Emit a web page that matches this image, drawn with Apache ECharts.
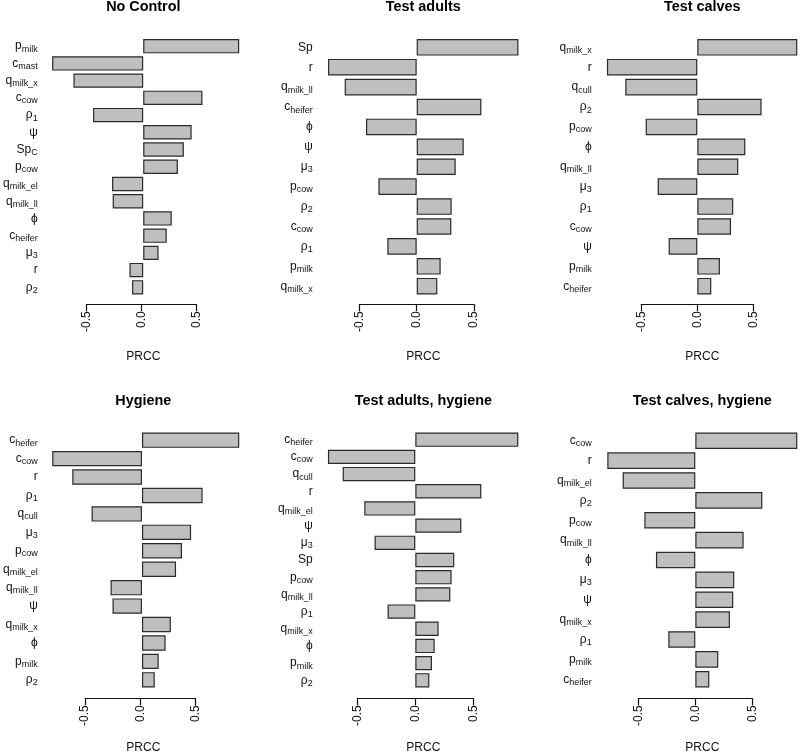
<!DOCTYPE html>
<html>
<head>
<meta charset="utf-8">
<script src="https://cdn.jsdelivr.net/npm/echarts@6/dist/echarts.min.js"></script>
<style>html,body{margin:0;padding:0;background:#fff;}#chart{width:800px;height:756px;}</style>
</head>
<body>
<div id="chart"></div>
<script>
// ---- data ----
const titles = ['No Control', 'Test adults', 'Test calves', 'Hygiene', 'Test adults, hygiene', 'Test calves, hygiene'];
const axisName = 'PRCC';
const tickValues = [-0.5, 0, 0.5];

const categories1 = ['p_milk','c_mast','q_milk_x','c_cow','ρ_1','ψ','Sp_C','p_cow','q_milk_el','q_milk_ll','ϕ','c_heifer','μ_3','r','ρ_2'];
const values1 = [0.888,-0.842,-0.645,0.548,-0.464,0.448,0.376,0.321,-0.288,-0.282,0.264,0.218,0.142,-0.127,-0.103];

const categories2 = ['Sp','r','q_milk_ll','c_heifer','ϕ','ψ','μ_3','p_cow','ρ_2','c_cow','ρ_1','p_milk','q_milk_x'];
const values2 = [0.887,-0.773,-0.628,0.564,-0.442,0.410,0.340,-0.334,0.305,0.302,-0.256,0.209,0.180];

const categories3 = ['q_milk_x','r','q_cull','ρ_2','p_cow','ϕ','q_milk_ll','μ_3','ρ_1','c_cow','ψ','p_milk','c_heifer'];
const values3 = [0.893,-0.807,-0.643,0.574,-0.461,0.429,0.366,-0.354,0.321,0.301,-0.256,0.202,0.125];

const categories4 = ['c_heifer','c_cow','r','ρ_1','q_cull','μ_3','p_cow','q_milk_el','q_milk_ll','ψ','q_milk_x','ϕ','p_milk','ρ_2'];
const values4 = [0.897,-0.828,-0.643,0.559,-0.465,0.453,0.369,0.314,-0.290,-0.272,0.266,0.218,0.154,0.118];

const categories5 = ['c_heifer','c_cow','q_cull','r','q_milk_el','ψ','μ_3','Sp','p_cow','q_milk_ll','ρ_1','q_milk_x','ϕ','p_milk','ρ_2'];
const values5 = [0.888,-0.753,-0.626,0.569,-0.440,0.397,-0.351,0.336,0.313,0.302,-0.239,0.201,0.167,0.144,0.121];

const categories6 = ['c_cow','r','q_milk_el','ρ_2','p_cow','q_milk_ll','ϕ','μ_3','ψ','q_milk_x','ρ_1','p_milk','c_heifer'];
const values6 = [0.895,-0.772,-0.637,0.588,-0.447,0.424,-0.345,0.342,0.333,0.304,-0.237,0.202,0.123];

const allCategories = [categories1, categories2, categories3, categories4, categories5, categories6];
const allValues = [values1, values2, values3, values4, values5, values6];

// ---- layout (pixel geometry of each panel) ----
const layout = [
  {x0:141.5, scale:110.0, top:39.0,  bottom:294.5, labelRight:34.3,  axisY:304.3, textX:143.3, titleY:7.5,   prccY:356.5},
  {x0:416.7, scale:114.7, top:39.0,  bottom:294.5, labelRight:312.7, axisY:304.3, textX:423.3, titleY:7.5,   prccY:356.5},
  {x0:697.3, scale:112.0, top:39.0,  bottom:294.5, labelRight:591.7, axisY:304.3, textX:702.3, titleY:7.5,   prccY:356.5},
  {x0:140.3, scale:110.3, top:432.5, bottom:687.5, labelRight:34.3,  axisY:698.3, textX:143.3, titleY:401.0, prccY:748.0},
  {x0:415.3, scale:116.0, top:432.5, bottom:687.5, labelRight:312.7, axisY:698.3, textX:423.3, titleY:401.0, prccY:748.0},
  {x0:695.3, scale:114.0, top:432.5, bottom:687.5, labelRight:591.7, axisY:698.3, textX:702.3, titleY:401.0, prccY:748.0}
];

const FONT = "'Liberation Sans', Arial, Helvetica, sans-serif";
const XR = 0.9; // half-range of the bar value axis

function fmtLabel(name) {
  const idx = name.indexOf('_');
  if (idx < 0) return '{m|' + name + '}';
  return '{m|' + name.slice(0, idx) + '}{s|' + name.slice(idx + 1) + '}';
}

const grids = [], xAxes = [], yAxes = [], series = [], graphics = [];

layout.forEach((L, i) => {
  const n = allCategories[i].length;
  const u = (L.bottom - L.top) / (1.2 * n - 0.2);
  const gTop = L.top - 0.1 * u;
  const gH = 1.2 * n * u;
  const gLeft = L.x0 - XR * L.scale;
  const gW = 2 * XR * L.scale;

  // bar grid
  grids.push({left: gLeft, top: gTop, width: gW, height: gH, containLabel: false});
  const gi = grids.length - 1;
  xAxes.push({gridIndex: gi, type: 'value', min: -XR, max: XR, show: false, splitLine: {show: false}});
  yAxes.push({
    gridIndex: gi, type: 'category', inverse: true, data: allCategories[i],
    axisLine: {show: false}, axisTick: {show: false}, splitLine: {show: false},
    axisLabel: {
      margin: gLeft - L.labelRight,
      formatter: fmtLabel,
      rich: {
        m: {fontSize: 12, fontFamily: FONT, color: '#111', verticalAlign: 'middle'},
        s: {fontSize: 9, fontFamily: FONT, color: '#111', verticalAlign: 'middle', padding: [6, 0, 0, 0]}
      }
    }
  });
  series.push({
    type: 'bar', xAxisIndex: gi, yAxisIndex: gi, data: allValues[i],
    barCategoryGap: '16.67%', silent: true,
    itemStyle: {color: '#bfbfbf', borderColor: '#2a2a2a', borderWidth: 1.2}
  });

  // R-style axis from -0.5 to 0.5
  grids.push({left: L.x0 - 0.5 * L.scale, width: L.scale, top: L.axisY - 1, height: 1, containLabel: false});
  const ai = grids.length - 1;
  xAxes.push({
    gridIndex: ai, type: 'value', min: tickValues[0], max: tickValues[tickValues.length - 1], interval: 0.5,
    position: 'bottom',
    axisLine: {show: true, onZero: false, lineStyle: {color: '#111', width: 1.2}},
    axisTick: {show: true, length: 7, lineStyle: {color: '#111', width: 1.2}},
    splitLine: {show: false},
    axisLabel: {rotate: 90, margin: 7, fontSize: 12, fontFamily: FONT, color: '#111',
      formatter: v => v.toFixed(1)}
  });
  yAxes.push({gridIndex: ai, type: 'value', show: false, min: 0, max: 1});

  graphics.push({
    type: 'text', x: L.textX, y: L.titleY, silent: true,
    style: {text: titles[i], fontSize: 14.4, fontWeight: 'bold', fontFamily: FONT, fill: '#000',
      align: 'center', verticalAlign: 'middle', textAlign: 'center', textVerticalAlign: 'middle'}
  });
  graphics.push({
    type: 'text', x: L.textX, y: L.prccY, silent: true,
    style: {text: axisName, fontSize: 12, fontFamily: FONT, fill: '#111',
      align: 'center', verticalAlign: 'middle', textAlign: 'center', textVerticalAlign: 'middle'}
  });
});

const chart = echarts.init(document.getElementById('chart'), null, {renderer: 'canvas'});
chart.setOption({
  animation: false,
  backgroundColor: '#fff',
  grid: grids, xAxis: xAxes, yAxis: yAxes, series: series,
  graphic: graphics
});
</script>
</body>
</html>
